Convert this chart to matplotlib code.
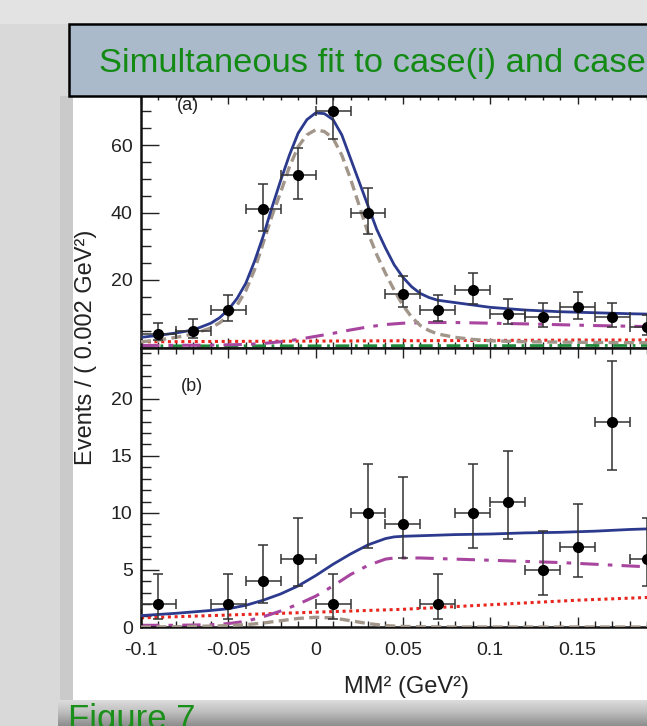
import numpy as np
import matplotlib
matplotlib.use("Agg")
import matplotlib.pyplot as plt
from matplotlib.patches import Rectangle
from matplotlib.ticker import MultipleLocator

plt.rcParams['font.family'] = ['Liberation Sans', 'DejaVu Sans']

# ---------------- data ----------------
# binned data points (bin width 0.02), panel (a)
xa = [-0.09, -0.07, -0.05, -0.03, -0.01, 0.01, 0.03, 0.05, 0.07, 0.09, 0.11, 0.13, 0.15, 0.17, 0.19]
ya = [4, 5, 11, 41, 51, 70, 40, 16, 11, 17, 10, 9, 12, 9, 6]
ya_lo = [1.91, 2.16, 3.27, 6.38, 7.12, 8.35, 6.29, 3.98, 3.27, 4.11, 3.11, 2.94, 3.43, 2.94, 2.38]
ya_hi = [3.16, 3.38, 4.42, 7.48, 8.18, 9.41, 7.38, 5.10, 4.42, 5.22, 4.26, 4.11, 4.57, 4.11, 3.58]

# panel (b)
xb = [-0.09, -0.05, -0.03, -0.01, 0.01, 0.03, 0.05, 0.07, 0.09, 0.11, 0.13, 0.15, 0.17, 0.19]
yb = [2, 2, 4, 6, 2, 10, 9, 2, 10, 11, 5, 7, 18, 6]
yb_lo = [1.29, 1.29, 1.91, 2.38, 1.29, 3.11, 2.94, 1.29, 3.11, 3.27, 2.16, 2.58, 4.23, 2.38]
yb_hi = [2.64, 2.64, 3.16, 3.58, 2.64, 4.26, 4.11, 2.64, 4.26, 4.42, 3.38, 3.77, 5.34, 3.58]
bin_half = 0.01

# fit curves, panel (a)
xa_fit = [-0.1, -0.09, -0.08, -0.07, -0.06, -0.055, -0.05, -0.045, -0.04, -0.035, -0.03,
          -0.025, -0.02, -0.015, -0.01, -0.005, 0.0, 0.005, 0.01, 0.015, 0.02, 0.025, 0.03,
          0.035, 0.04, 0.045, 0.05, 0.055, 0.06, 0.065, 0.07, 0.08, 0.09, 0.1, 0.12, 0.14,
          0.16, 0.18, 0.2]
total_a = [3.0, 3.6, 4.3, 5.2, 7.2, 8.8, 11.2, 14.5, 19, 25.5, 33, 41.5, 49.5, 57, 63.5, 67.5,
           69.5, 69.3, 67.5, 63, 56, 49, 42, 35, 29.5, 24.5, 20.8, 18, 16, 14.8, 14.0, 13.3,
           12.6, 11.9, 11.1, 10.6, 10.3, 10.0, 9.8]
signal_a = [1.7, 2.2, 3.0, 4.0, 5.8, 7.3, 9.3, 12.5, 16.8, 23, 31, 39, 46, 53.5, 59.5, 63,
            64.5, 64, 62, 57, 50, 42, 34, 27.5, 22, 17, 12.5, 9, 6.5, 5.0, 4.0, 3.0, 2.4, 2.0,
            1.7, 1.6, 1.5, 1.45, 1.4]
xa_bkg = [-0.1, -0.08, -0.06, -0.04, -0.03, -0.02, -0.01, 0.0, 0.01, 0.02, 0.03, 0.04, 0.05,
          0.065, 0.08, 0.1, 0.12, 0.14, 0.16, 0.18, 0.2]
peaking_a = [0.6, 0.65, 0.7, 0.9, 1.2, 1.7, 2.4, 3.3, 4.2, 5.2, 6.1, 6.8, 7.2, 7.4, 7.4, 7.2,
             7.0, 6.75, 6.5, 6.3, 6.1]
x_flat = [-0.1, -0.05, 0.0, 0.05, 0.1, 0.15, 0.2]
comb_a = [1.7, 1.8, 1.9, 2.0, 2.1, 2.2, 2.25]
other_a = [0.5, 0.5, 0.5, 0.55, 0.55, 0.6, 0.6]

# fit curves, panel (b)
xb_fit = [-0.1, -0.08, -0.06, -0.05, -0.04, -0.03, -0.02, -0.01, 0.0, 0.01, 0.02, 0.03, 0.04,
          0.045, 0.05, 0.06, 0.08, 0.1, 0.12, 0.14, 0.16, 0.18, 0.2]
total_b = [1.0, 1.2, 1.45, 1.6, 1.9, 2.35, 2.9, 3.6, 4.5, 5.5, 6.4, 7.2, 7.75, 7.9, 7.95, 8.0,
           8.1, 8.15, 8.25, 8.3, 8.4, 8.55, 8.65]
peaking_b = [0.15, 0.15, 0.2, 0.3, 0.5, 0.9, 1.4, 2.0, 2.7, 3.6, 4.6, 5.4, 5.95, 6.05, 6.05,
             6.05, 5.95, 5.85, 5.75, 5.65, 5.5, 5.35, 5.2]
signal_b = [0.0, 0.02, 0.08, 0.12, 0.2, 0.35, 0.55, 0.75, 0.85, 0.8, 0.55, 0.3, 0.12, 0.08,
            0.05, 0.02, 0.0, 0.0, 0.0, 0.0, 0.0, 0.0, 0.0]
comb_b = [0.8, 1.05, 1.3, 1.55, 1.95, 2.35, 2.65]

# ---------------- figure / slide background ----------------
W, H = 647, 726
fig = plt.figure(figsize=(W / 100, H / 100), dpi=100, facecolor='#d9d9d9')

bg = fig.add_axes([0, 0, 1, 1], zorder=0)
bg.set_xlim(0, W)
bg.set_ylim(H, 0)
bg.axis('off')
bg.add_patch(Rectangle((0, 0), W, 24, fc='#e3e3e3', ec='none'))
bg.add_patch(Rectangle((60, 96), 13, 604, fc='#cacaca', ec='none'))
# shadow band under the image
grad = np.linspace(0, 1, 50).reshape(-1, 1) * np.ones((1, 10))
bg.imshow(grad, extent=(58, W, 726, 700), cmap='Greys', vmin=-0.8, vmax=2.6, aspect='auto')
bg.add_patch(Rectangle((73, 96), W - 73, 604, fc='white', ec='none'))
bg.text(68, 703, "Figure 7", color='#1a8f1a', fontsize=25, va='top', ha='left')

# ---------------- chart axes ----------------
def px_axes(left, top, right, bottom):
    return [left / W, 1 - bottom / H, (right - left) / W, (bottom - top) / H]

ppu_x = 1746.0  # pixels per GeV^2
x0_px = 141
a_bottom, a_scale = 347.5, 3.375
b_bottom = 627.0
x_right = x0_px + 0.3 * ppu_x

ax_a = fig.add_axes(px_axes(x0_px, a_bottom - 75 * a_scale, x_right, a_bottom), zorder=1)
ax_b = fig.add_axes(px_axes(x0_px, a_bottom, x_right, b_bottom), zorder=1)

blue = '#2c3a8e'
gray = '#a2968a'
mag = '#a8459e'
red = '#e8261e'
green = '#1f8a3c'

def draw(ax, x, y, lo, hi):
    ax.errorbar(x, y, yerr=[lo, hi], xerr=bin_half, fmt='o', color='black',
                ecolor='#333333', elinewidth=1.1, capsize=3.5, capthick=1.1,
                markersize=7, zorder=5)

ax_a.plot(x_flat, other_a, color=green, lw=2, ls=(0, (5, 2, 1, 2)), zorder=2)
ax_a.plot(x_flat, comb_a, color=red, lw=2.2, ls=(0, (1, 1.2)), zorder=2)
ax_a.plot(xa_bkg, peaking_a, color=mag, lw=2.2, ls=(0, (6, 3, 1.5, 3)), zorder=2)
ax_a.plot(xa_fit, signal_a, color=gray, lw=2.4, ls=(0, (3, 1.6)), zorder=3)
ax_a.plot(xa_fit, total_a, color=blue, lw=2.0, zorder=4)
draw(ax_a, xa, ya, ya_lo, ya_hi)
ax_a.set_ylim(0, 75)

ax_b.plot(x_flat, comb_b, color=red, lw=2.2, ls=(0, (1, 1.2)), zorder=2)
ax_b.plot(xb_fit, peaking_b, color=mag, lw=2.2, ls=(0, (6, 3, 1.5, 3)), zorder=2)
ax_b.plot(xb_fit, signal_b, color=gray, lw=2.4, ls=(0, (3, 1.6)), zorder=3)
ax_b.plot(xb_fit, total_b, color=blue, lw=2.0, zorder=4)
draw(ax_b, xb, yb, yb_lo, yb_hi)
ax_b.set_ylim(0, 24.5)

for ax in (ax_a, ax_b):
    ax.set_xlim(-0.1, 0.2)
    ax.set_facecolor('white')
    ax.xaxis.set_major_locator(MultipleLocator(0.05))
    ax.xaxis.set_minor_locator(MultipleLocator(0.01))
    ax.tick_params(which='both', direction='in', top=True, right=True, width=1,
                   labelsize=14, colors='#222222', labelcolor='#222222')
    ax.tick_params(axis='y', which='major', length=13, pad=6)
    ax.tick_params(axis='y', which='minor', length=7)
    ax.tick_params(axis='x', which='major', length=7, pad=11)
    ax.tick_params(axis='x', which='minor', length=4)
    for s in ax.spines.values():
        s.set_linewidth(1.8)
        s.set_color('#111111')

ax_a.yaxis.set_major_locator(MultipleLocator(20))
ax_a.yaxis.set_minor_locator(MultipleLocator(5))
ax_a.set_yticks([20, 40, 60])
ax_a.tick_params(axis='x', labelbottom=False)
ax_b.yaxis.set_major_locator(MultipleLocator(5))
ax_b.yaxis.set_minor_locator(MultipleLocator(1))
ax_b.set_xticks([-0.1, -0.05, 0.0, 0.05, 0.1, 0.15])
ax_b.set_xticklabels(['-0.1', '-0.05', '0', '0.05', '0.1', '0.15'])
ax_b.set_yticks([0, 5, 10, 15, 20])

ax_a.text(-0.073, 71.6, "(a)", fontsize=13, va='center', ha='center', color='#222222')
ax_b.text(-0.071, 21.1, "(b)", fontsize=13, va='center', ha='center', color='#222222')

fig.text(86 / W, 1 - 347 / H, "Events / ( 0.002 GeV²)", rotation=90, fontsize=17,
         ha='center', va='center', color='#222222')
fig.text(407 / W, 1 - 687 / H, "MM² (GeV²)", fontsize=17, ha='center', va='center',
         color='#222222')

# ---------------- slide title box (on top) ----------------
ov = fig.add_axes([0, 0, 1, 1], zorder=10)
ov.set_xlim(0, W)
ov.set_ylim(H, 0)
ov.axis('off')
ov.patch.set_visible(False)
ov.add_patch(Rectangle((69, 24), 620, 72, fc='#abbacb', ec='black', lw=1.8))
ov.text(99, 72, "Simultaneous fit to case(i) and case", color='#138a13', fontsize=24.8,
        ha='left', va='baseline')

fig.savefig("out.png", dpi=100)
